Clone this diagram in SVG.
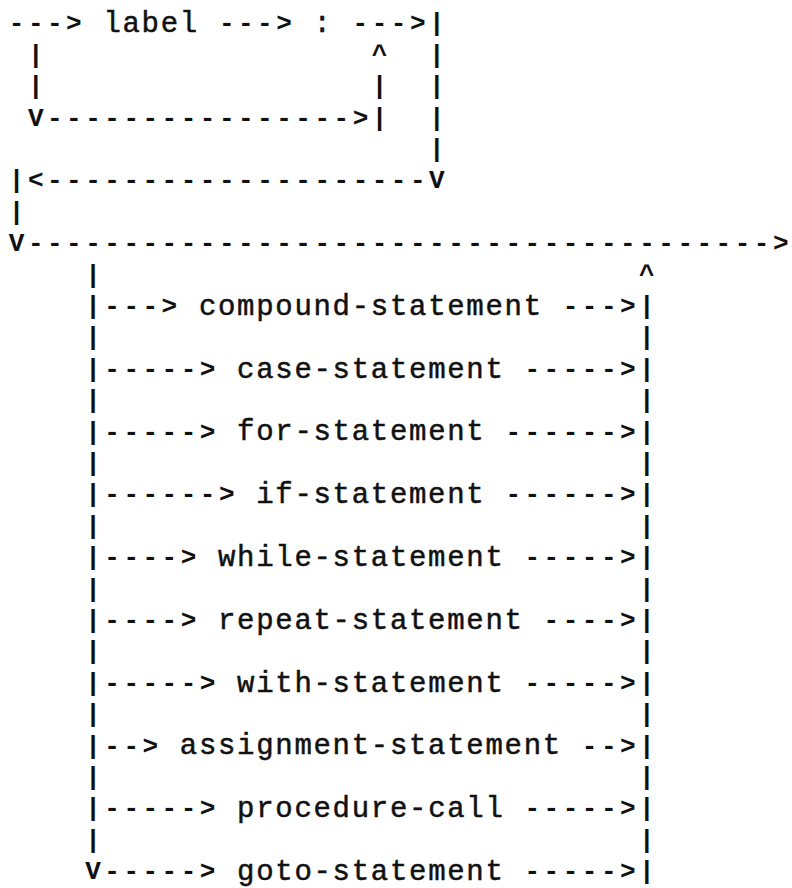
<svg xmlns="http://www.w3.org/2000/svg" width="792" height="888" viewBox="0 0 792 888">
  <style>
    /* monospaced grid: 19.1px column pitch, 31.4px row pitch */
    text { font-family: "Liberation Mono", "Courier New", monospace; fill: #111; }
    .c text { font-size: 26px; letter-spacing: 3.5px; font-weight: bold; }
    .n text { font-size: 29px; letter-spacing: 1.7px; stroke: #111; stroke-width: 0.5px; }
  </style>
  <rect width="792" height="888" fill="#fff"/>

  <!-- arrows, bars and corners of the syntax chart -->
  <g id="connectors" class="c">
    <!-- optional label branch -->
    <text x="8.8" y="31.4">---&gt;</text>
    <text x="218.9" y="31.4">---&gt;</text>
    <text x="352.6" y="31.4">---&gt;|</text>
    <text x="27.9" y="62.8">|</text>
    <text x="371.7" y="62.8">^</text>
    <text x="429.0" y="62.8">|</text>
    <text x="27.9" y="94.2">|</text>
    <text x="371.7" y="94.2">|</text>
    <text x="429.0" y="94.2">|</text>
    <text x="27.9" y="125.6">V----------------&gt;|</text>
    <text x="429.0" y="125.6">|</text>
    <text x="429.0" y="157.0">|</text>
    <text x="8.8" y="188.4">|&lt;--------------------V</text>
    <text x="8.8" y="219.8">|</text>
    <!-- empty statement path -->
    <text x="8.8" y="251.2">V---------------------------------------&gt;</text>
    <!-- alternatives -->
    <text x="85.2" y="282.6">|</text>
    <text x="639.1" y="282.6">^</text>
    <text x="85.2" y="314.0">|---&gt;</text>
    <text x="562.7" y="314.0">---&gt;|</text>
    <text x="85.2" y="345.4">|</text>
    <text x="639.1" y="345.4">|</text>
    <text x="85.2" y="376.8">|-----&gt;</text>
    <text x="524.5" y="376.8">-----&gt;|</text>
    <text x="85.2" y="408.2">|</text>
    <text x="639.1" y="408.2">|</text>
    <text x="85.2" y="439.6">|-----&gt;</text>
    <text x="505.4" y="439.6">------&gt;|</text>
    <text x="85.2" y="471.0">|</text>
    <text x="639.1" y="471.0">|</text>
    <text x="85.2" y="502.4">|------&gt;</text>
    <text x="505.4" y="502.4">------&gt;|</text>
    <text x="85.2" y="533.8">|</text>
    <text x="639.1" y="533.8">|</text>
    <text x="85.2" y="565.2">|----&gt;</text>
    <text x="524.5" y="565.2">-----&gt;|</text>
    <text x="85.2" y="596.6">|</text>
    <text x="639.1" y="596.6">|</text>
    <text x="85.2" y="628.0">|----&gt;</text>
    <text x="543.6" y="628.0">----&gt;|</text>
    <text x="85.2" y="659.4">|</text>
    <text x="639.1" y="659.4">|</text>
    <text x="85.2" y="690.8">|-----&gt;</text>
    <text x="524.5" y="690.8">-----&gt;|</text>
    <text x="85.2" y="722.2">|</text>
    <text x="639.1" y="722.2">|</text>
    <text x="85.2" y="753.6">|--&gt;</text>
    <text x="581.8" y="753.6">--&gt;|</text>
    <text x="85.2" y="785.0">|</text>
    <text x="639.1" y="785.0">|</text>
    <text x="85.2" y="816.4">|-----&gt;</text>
    <text x="524.5" y="816.4">-----&gt;|</text>
    <text x="85.2" y="847.8">|</text>
    <text x="639.1" y="847.8">|</text>
    <text x="85.2" y="879.2">V-----&gt;</text>
    <text x="524.5" y="879.2">-----&gt;|</text>
  </g>

  <!-- terminal and non-terminal symbols -->
  <g transform="translate(-0.9,0.8)">
  <g id="label" class="n"><text x="104.3" y="31.4">label</text></g>
  <g id="colon" class="n"><text x="314.4" y="31.4">:</text></g>
  <g id="compound-statement" class="n"><text x="199.8" y="314.0">compound-statement</text></g>
  <g id="case-statement" class="n"><text x="238.0" y="376.8">case-statement</text></g>
  <g id="for-statement" class="n"><text x="238.0" y="439.6">for-statement</text></g>
  <g id="if-statement" class="n"><text x="257.1" y="502.4">if-statement</text></g>
  <g id="while-statement" class="n"><text x="218.9" y="565.2">while-statement</text></g>
  <g id="repeat-statement" class="n"><text x="218.9" y="628.0">repeat-statement</text></g>
  <g id="with-statement" class="n"><text x="238.0" y="690.8">with-statement</text></g>
  <g id="assignment-statement" class="n"><text x="180.7" y="753.6">assignment-statement</text></g>
  <g id="procedure-call" class="n"><text x="238.0" y="816.4">procedure-call</text></g>
  <g id="goto-statement" class="n"><text x="238.0" y="879.2">goto-statement</text></g>
  </g>
</svg>
